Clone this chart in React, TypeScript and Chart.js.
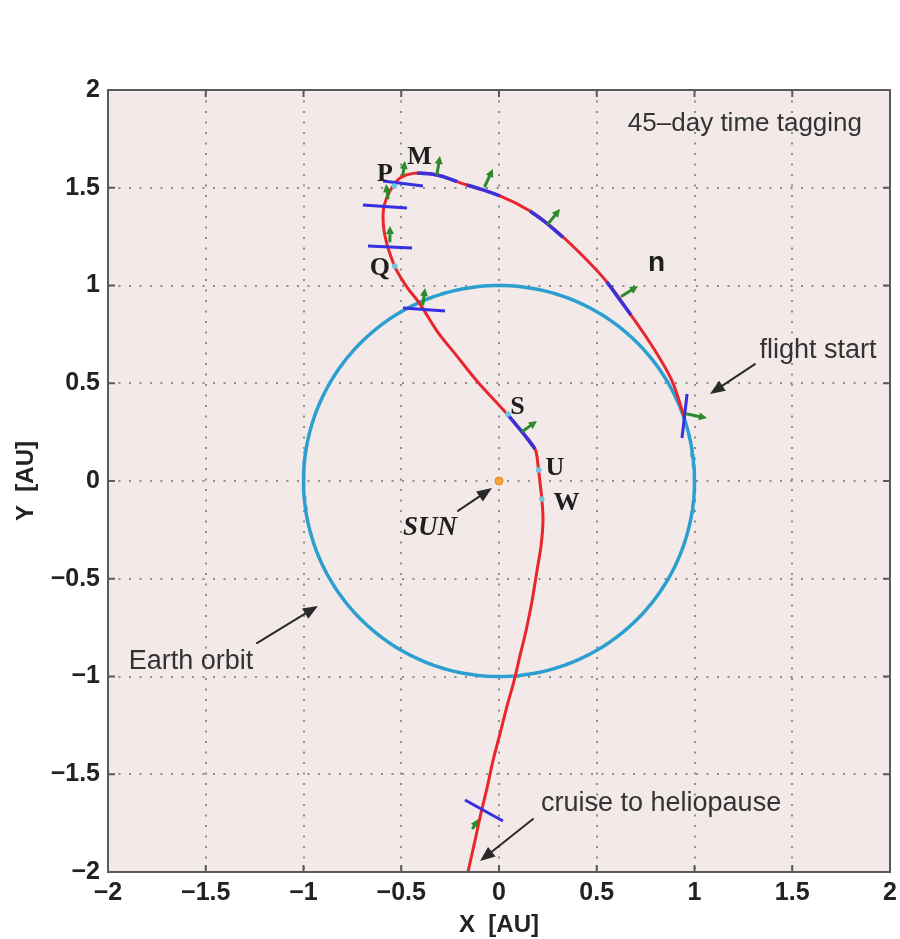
import { useEffect, useRef } from "react";
import { Chart, registerables } from "chart.js";

Chart.register(...registerables);

// Axis ticks (AU)
const TICK_VALUES = [-2, -1.5, -1, -0.5, 0, 0.5, 1, 1.5, 2];

// Earth orbit radius (AU)
const ORBIT_RADIUS = 1;

// Spacecraft trajectory, from departure at Earth to the outbound cruise
const TRAJ_X = [0.946, 0.885, 0.793, 0.675, 0.552, 0.414, 0.276, 0.159, 0.005, -0.164, -0.317, -0.419, -0.506, -0.558, -0.588, -0.593, -0.588, -0.573, -0.552, -0.522, -0.471, -0.404, -0.317, -0.215, -0.113, 0.041, 0.118, 0.184, 0.2, 0.21, 0.22, 0.225, 0.215, 0.194, 0.169, 0.138, 0.107, 0.077, 0.041, 0.005, -0.031, -0.061, -0.092, -0.123, -0.159];
const TRAJ_Y = [0.332, 0.512, 0.675, 0.849, 1.018, 1.166, 1.294, 1.381, 1.458, 1.514, 1.565, 1.575, 1.55, 1.483, 1.407, 1.345, 1.279, 1.212, 1.146, 1.074, 0.992, 0.905, 0.767, 0.639, 0.512, 0.343, 0.251, 0.164, 0.077, -0.01, -0.102, -0.205, -0.332, -0.46, -0.614, -0.767, -0.895, -1.023, -1.151, -1.294, -1.432, -1.57, -1.698, -1.841, -2.0];

// Highlighted arcs along the trajectory
const ARCS_X = [
  [-0.419, -0.317, -0.215],
  [-0.164, -0.08, 0.005],
  [0.159, 0.24, 0.327],
  [0.552, 0.61, 0.675],
  [0.041, 0.118, 0.184],
];
const ARCS_Y = [
  [1.575, 1.565, 1.532],
  [1.514, 1.489, 1.458],
  [1.381, 1.321, 1.247],
  [1.018, 0.938, 0.849],
  [0.343, 0.251, 0.164],
];

// 45-day time tags (short cross bars): [x1, y1, x2, y2]
const TAG_X1 = [-0.593, -0.696, -0.67, -0.491, 0.962, -0.174];
const TAG_Y1 = [1.535, 1.412, 1.202, 0.885, 0.445, -1.632];
const TAG_X2 = [-0.389, -0.471, -0.445, -0.276, 0.936, 0.02];
const TAG_Y2 = [1.509, 1.396, 1.192, 0.87, 0.22, -1.739];

// Thrust direction arrows: tail -> head
const THRUST_TAIL_X = [-0.491, -0.317, -0.072, 0.251, 0.629, -0.568, -0.558, -0.389, 0.123, 0.962, -0.133];
const THRUST_TAIL_Y = [1.57, 1.57, 1.509, 1.315, 0.946, 1.448, 1.228, 0.905, 0.256, 0.343, -1.775];
const THRUST_HEAD_X = [-0.481, -0.302, -0.031, 0.312, 0.711, -0.578, -0.558, -0.378, 0.194, 1.064, -0.105];
const THRUST_HEAD_Y = [1.637, 1.662, 1.596, 1.391, 0.997, 1.519, 1.304, 0.987, 0.307, 0.322, -1.729];

// Event markers on the trajectory
const EVENT_X = [-0.535, -0.533, 0.046, 0.203, 0.219];
const EVENT_Y = [1.509, 1.1, 0.343, 0.056, -0.092];

// Point labels
const POINT_LABELS = ["M", "P", "Q", "S", "U", "W"];
const POINT_LABEL_X = [-0.407, -0.583, -0.609, 0.095, 0.286, 0.345];
const POINT_LABEL_Y = [1.655, 1.568, 1.089, 0.376, 0.066, -0.115];

// Annotation texts and arrows
const NOTE_TEXTS = ["45–day time tagging", "flight start", "Earth orbit", "cruise to heliopause"];
const NOTE_X = [1.258, 1.632, -1.575, 0.829];
const NOTE_Y = [1.826, 0.665, -0.921, -1.652];
const NOTE_SIZE = [26, 27, 27, 27];

const POINTER_TAIL_X = [1.309, -1.238, 0.174, -0.21];
const POINTER_TAIL_Y = [0.598, -0.829, -1.729, -0.153];
const POINTER_HEAD_X = [1.079, -0.926, -0.097, -0.036];
const POINTER_HEAD_Y = [0.445, -0.639, -1.944, -0.036];

const PLOT_BG = "#f3e9e9";
const SANS = '"Liberation Sans", Arial, Helvetica, sans-serif';
const SERIF = '"Liberation Serif", "Times New Roman", serif';

function pts(xs: number[], ys: number[]) {
  return xs.map((x, i) => ({ x, y: ys[i] }));
}

function drawArrow(
  ctx: CanvasRenderingContext2D,
  x1: number, y1: number, x2: number, y2: number,
  color: string, width: number, headLen: number, headW: number
) {
  const ang = Math.atan2(y2 - y1, x2 - x1);
  const bx = x2 - headLen * Math.cos(ang);
  const by = y2 - headLen * Math.sin(ang);
  ctx.strokeStyle = color;
  ctx.fillStyle = color;
  ctx.lineWidth = width;
  ctx.lineCap = "round";
  ctx.beginPath();
  ctx.moveTo(x1, y1);
  ctx.lineTo(bx, by);
  ctx.stroke();
  ctx.beginPath();
  ctx.moveTo(x2, y2);
  ctx.lineTo(bx + (headW / 2) * Math.sin(ang), by - (headW / 2) * Math.cos(ang));
  ctx.lineTo(bx - (headW / 2) * Math.sin(ang), by + (headW / 2) * Math.cos(ang));
  ctx.closePath();
  ctx.fill();
}

const framePlugin = {
  id: "frame",
  beforeDatasetsDraw(chart: any) {
    const { ctx, chartArea: a, scales } = chart;
    const xs = scales.x;
    const ys = scales.y;
    ctx.save();
    ctx.fillStyle = PLOT_BG;
    ctx.fillRect(a.left, a.top, a.right - a.left, a.bottom - a.top);
    ctx.strokeStyle = "#8e8e8e";
    ctx.lineWidth = 2;
    ctx.setLineDash([2, 8.5]);
    for (const v of TICK_VALUES) {
      const px = Math.round(xs.getPixelForValue(v));
      if (px > a.left + 2 && px < a.right - 2) {
        ctx.beginPath();
        ctx.moveTo(px, a.top);
        ctx.lineTo(px, a.bottom);
        ctx.stroke();
      }
      const py = Math.round(ys.getPixelForValue(v));
      if (py > a.top + 2 && py < a.bottom - 2) {
        ctx.beginPath();
        ctx.moveTo(a.left, py);
        ctx.lineTo(a.right, py);
        ctx.stroke();
      }
    }
    ctx.restore();
  },
  afterDatasetsDraw(chart: any) {
    const { ctx, chartArea: a, scales } = chart;
    const xs = scales.x;
    const ys = scales.y;
    const X = (v: number) => xs.getPixelForValue(v);
    const Y = (v: number) => ys.getPixelForValue(v);
    ctx.save();

    // thrust arrows
    for (let i = 0; i < THRUST_TAIL_X.length; i++) {
      drawArrow(ctx, X(THRUST_TAIL_X[i]), Y(THRUST_TAIL_Y[i]), X(THRUST_HEAD_X[i]), Y(THRUST_HEAD_Y[i]), "#2b8a2b", 3, 8, 8);
    }

    // axes box and inward ticks
    ctx.strokeStyle = "#5a5a5a";
    ctx.lineWidth = 2;
    ctx.lineCap = "butt";
    ctx.strokeRect(a.left, a.top, a.right - a.left, a.bottom - a.top);
    const tl = 7;
    ctx.beginPath();
    for (const v of TICK_VALUES) {
      const px = X(v);
      ctx.moveTo(px, a.bottom);
      ctx.lineTo(px, a.bottom - tl);
      ctx.moveTo(px, a.top);
      ctx.lineTo(px, a.top + tl);
      const py = Y(v);
      ctx.moveTo(a.left, py);
      ctx.lineTo(a.left + tl, py);
      ctx.moveTo(a.right, py);
      ctx.lineTo(a.right - tl, py);
    }
    ctx.stroke();

    // annotation pointers
    for (let i = 0; i < POINTER_TAIL_X.length; i++) {
      drawArrow(ctx, X(POINTER_TAIL_X[i]), Y(POINTER_TAIL_Y[i]), X(POINTER_HEAD_X[i]), Y(POINTER_HEAD_Y[i]), "#2a2a2a", 2, 15, 12);
    }

    // annotation texts
    ctx.textAlign = "center";
    ctx.textBaseline = "middle";
    ctx.fillStyle = "#333333";
    for (let i = 0; i < NOTE_TEXTS.length; i++) {
      ctx.font = `${NOTE_SIZE[i]}px ${SANS}`;
      ctx.fillText(NOTE_TEXTS[i], X(NOTE_X[i]), Y(NOTE_Y[i]));
    }

    // point labels
    ctx.fillStyle = "#1e1e1e";
    ctx.font = `bold 26px ${SERIF}`;
    for (let i = 0; i < POINT_LABELS.length; i++) {
      ctx.fillText(POINT_LABELS[i], X(POINT_LABEL_X[i]), Y(POINT_LABEL_Y[i]));
    }
    ctx.font = `italic bold 27px ${SERIF}`;
    ctx.fillText("SUN", X(-0.353), Y(-0.24));
    ctx.font = `bold 28px ${SANS}`;
    ctx.fillText("n", X(0.806), Y(1.115));

    // axis titles
    ctx.fillStyle = "#222222";
    ctx.font = `bold 24px ${SANS}`;
    ctx.fillText("X  [AU]", (a.left + a.right) / 2, 925);
    ctx.save();
    ctx.translate(26, (a.top + a.bottom) / 2);
    ctx.rotate(-Math.PI / 2);
    ctx.fillText("Y  [AU]", 0, 0);
    ctx.restore();

    ctx.restore();
  },
};

const fmt = (v: number) => {
  const r = Math.round(v * 10) / 10;
  return r < 0 ? "\u2212" + String(Math.abs(r)) : String(r);
};

export default function App() {
  const ref = useRef<HTMLCanvasElement | null>(null);

  useEffect(() => {
    if (!ref.current) return;
    const orbit = Array.from({ length: 241 }, (_, i) => {
      const t = (i / 240) * 2 * Math.PI;
      return { x: ORBIT_RADIUS * Math.cos(t), y: ORBIT_RADIUS * Math.sin(t) };
    });

    const datasets: any[] = [
      {
        data: orbit, showLine: true, borderColor: "#2b9fcf", borderWidth: 3.5,
        pointRadius: 0, tension: 0, order: 10,
      },
      {
        data: pts(TRAJ_X, TRAJ_Y), showLine: true, borderColor: "#e8262b", borderWidth: 3,
        pointRadius: 0, tension: 0.35, order: 9,
      },
    ];
    ARCS_X.forEach((xs, i) => {
      datasets.push({
        data: pts(xs, ARCS_Y[i]), showLine: true, borderColor: "#3c30d8", borderWidth: 3.5,
        pointRadius: 0, tension: 0.4, order: 8,
      });
    });
    TAG_X1.forEach((_, i) => {
      datasets.push({
        data: [{ x: TAG_X1[i], y: TAG_Y1[i] }, { x: TAG_X2[i], y: TAG_Y2[i] }],
        showLine: true, borderColor: "#3530e0", borderWidth: 3, pointRadius: 0, order: 7,
      });
    });
    datasets.push({
      data: pts(EVENT_X, EVENT_Y), showLine: false, pointRadius: 2.8,
      backgroundColor: "#6cc6e2", borderWidth: 0, order: 2,
    });
    datasets.push({
      data: [{ x: 0, y: 0 }], showLine: false, pointRadius: 4,
      backgroundColor: "#f4a43a", borderColor: "#e08a20", borderWidth: 1, order: 1,
    });

    const chart = new Chart(ref.current, {
      type: "scatter",
      data: { datasets },
      options: {
        animation: false,
        responsive: false,
        events: [],
        layout: { padding: { left: 0, top: 90, right: 10, bottom: 0 } },
        plugins: { legend: { display: false }, tooltip: { enabled: false } },
        scales: {
          x: {
            type: "linear", min: -2, max: 2,
            grid: { display: false, drawTicks: false },
            border: { display: false },
            afterFit: (s: any) => { s.height = 67; s.paddingLeft = 0; s.paddingRight = 0; },
            afterBuildTicks: (s: any) => { s.ticks = TICK_VALUES.map((v) => ({ value: v })); },
            ticks: {
              padding: 6, color: "#222222", maxRotation: 0, autoSkip: false,
              font: { family: SANS, size: 25, weight: "bold" },
              callback: (v: any) => fmt(Number(v)),
            },
          },
          y: {
            type: "linear", min: -2, max: 2,
            grid: { display: false, drawTicks: false },
            border: { display: false },
            afterFit: (s: any) => { s.width = 108; s.paddingTop = 0; s.paddingBottom = 0; },
            afterBuildTicks: (s: any) => { s.ticks = TICK_VALUES.map((v) => ({ value: v })); },
            ticks: {
              padding: 8, color: "#222222", autoSkip: false,
              font: { family: SANS, size: 25, weight: "bold" },
              callback: (v: any) => fmt(Number(v)),
            },
          },
        },
      },
      plugins: [framePlugin],
    });
    return () => chart.destroy();
  }, []);

  return (
    <div style={{ position: "absolute", left: 0, top: 0, width: 900, height: 939, background: "#ffffff" }}>
      <canvas ref={ref} width={900} height={939} style={{ display: "block" }} />
    </div>
  );
}
